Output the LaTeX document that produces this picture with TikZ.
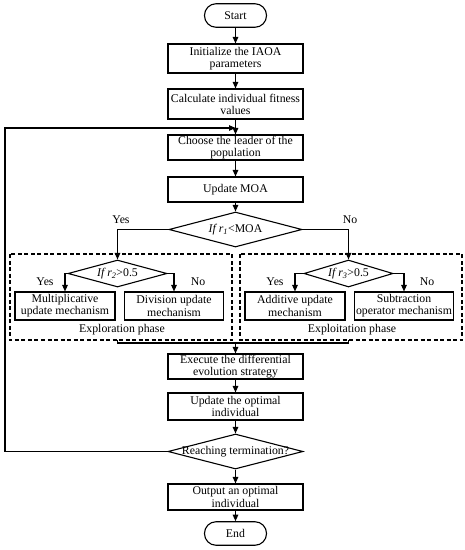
\documentclass[tikz,border=0pt]{standalone}
\usepackage{fontspec}
\setmainfont{Liberation Serif}
\usetikzlibrary{shapes.geometric,arrows.meta,positioning}
\tikzset{
  every node/.style={font=\fontsize{11.8}{12.2}\selectfont},
  proc/.style={draw, line width=1.1pt, rectangle, align=center, inner sep=0.5pt, minimum width=135pt},
  sub/.style={draw, line width=1.1pt, rectangle, align=center, inner sep=0.5pt, minimum width=100pt, minimum height=28pt},
  term/.style={draw, line width=1.1pt, rectangle, rounded corners=11.5pt, minimum width=62pt, minimum height=23.5pt, inner sep=1pt},
  dia/.style={draw, line width=1.1pt, diamond, inner sep=0pt},
  phase/.style={draw, line width=1.1pt, dash pattern=on 4pt off 2.5pt},
  lbl/.style={inner sep=0pt},
  arr/.style={line width=1.1pt, -{Triangle[length=6.5pt,width=5.5pt]}},
  ln/.style={line width=1.1pt}
}
\begin{document}
\begin{tikzpicture}[x=1pt,y=-1pt]
\useasboundingbox (0,0) rectangle (465,550);
% main column
\node[term] (start) at (235.5,15.5) {Start};
\node[proc, minimum height=29pt] (init) at (235.5,58.5) {Initialize the IAOA\\parameters};
\node[proc, minimum height=30pt] (calc) at (235.5,104) {Calculate individual fitness\\values};
\node[proc, minimum height=25pt] (choose) at (235.5,147.5) {Choose the leader of the\\population};
\node[proc, minimum height=25pt] (moa) at (235.5,189.5) {Update MOA};
\node[dia, minimum width=133pt, minimum height=35pt] (d1) at (235.5,229.5) {};
\node[lbl] (d1t) at (d1) {\textit{If r\textsubscript{1}}<MOA};
% phase frames
\draw[phase] (10,254) rectangle (232,340);
\draw[phase] (240,254) rectangle (462,340);
\node[lbl] (expl) at (122,330) {Exploration phase};
\node[lbl] (expt) at (352,330) {Exploitation phase};
% exploration
\node[dia, minimum width=99pt, minimum height=27pt] (d2) at (117.5,273.5) {};
\node[lbl] (d2t) at (d2) {\textit{If r\textsubscript{2}}>0.5};
\node[sub] (mul) at (65,306) {Multiplicative\\update mechanism};
\node[sub, minimum width=99pt] (div) at (174,306) {Division update\\mechanism};
% exploitation
\node[dia, minimum width=89pt, minimum height=27pt] (d3) at (348.5,273.5) {};
\node[lbl] (d3t) at (d3) {\textit{If r\textsubscript{3}}>0.5};
\node[sub] (add) at (295,306) {Additive update\\mechanism};
\node[sub, minimum width=99pt] (subm) at (404,306) {Subtraction\\operator mechanism};
% lower column
\node[proc, minimum height=25pt] (exec) at (235.5,366.5) {Execute the differential\\evolution strategy};
\node[proc, minimum height=27pt] (upd) at (235.5,406.5) {Update the optimal\\individual};
\node[dia, minimum width=135pt, minimum height=35pt] (d4) at (235.5,451.5) {};
\node[lbl] (d4t) at (d4) {Reaching termination?};
\node[proc, minimum height=26pt] (out) at (235.5,497) {Output an optimal\\individual};
\node[term] (end) at (235.5,533.5) {End};
% labels
\node[lbl] (y1) at (121,220) {Yes};
\node[lbl] (n1) at (350,220) {No};
\node[lbl] (y2) at (45,282) {Yes};
\node[lbl] (n2) at (198,282) {No};
\node[lbl] (y3) at (275,282) {Yes};
\node[lbl] (n3) at (427,282) {No};
% coordinates
\coordinate (mrg) at (235.5,343);
\coordinate (loopL) at (5,128);
\coordinate (loopJ) at (235.5,128);
% connectors
\draw[arr] (start) -- (init);
\draw[arr] (init) -- (calc);
\draw[arr] (calc) -- (choose);
\draw[arr] (choose) -- (moa);
\draw[arr] (moa) -- (d1);
\draw[arr] (d1.west) -| (d2.north);
\draw[arr] (d1.east) -| (d3.north);
\draw[arr] (d2.west) -| (mul.north);
\draw[arr] (d2.east) -| (div.north);
\draw[arr] (d3.west) -| (add.north);
\draw[arr] (d3.east) -| (subm.north);
\draw[ln] (117.5,340) |- (mrg);
\draw[ln] (348.5,340) |- (mrg);
\draw[arr] (mrg) -- (exec);
\draw[arr] (exec) -- (upd);
\draw[arr] (upd) -- (d4);
\draw[arr] (d4) -- (out);
\draw[arr] (out) -- (end);
\draw[arr] (d4.west) -| (loopL) -- (loopJ);
\end{tikzpicture}
\end{document}
